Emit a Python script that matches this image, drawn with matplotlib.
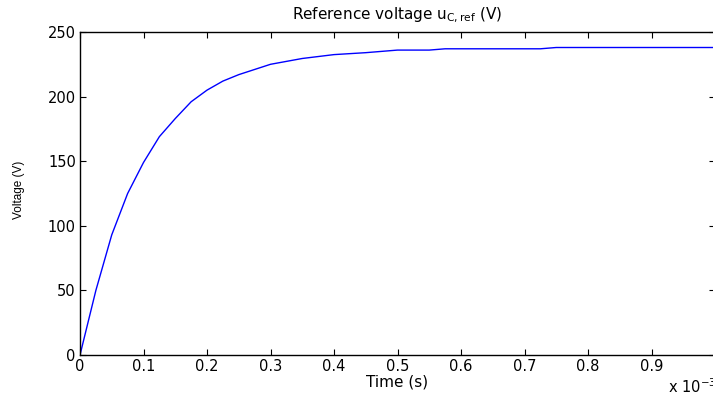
import matplotlib
matplotlib.use("Agg")
import matplotlib.pyplot as plt
import numpy as np

time_ms = [0, 0.025, 0.05, 0.075, 0.1, 0.125, 0.15, 0.175, 0.2, 0.225, 0.25, 0.275,
           0.3, 0.35, 0.4, 0.45, 0.5, 0.55, 0.575, 0.6, 0.7, 0.725, 0.75, 1.0]
voltage = [0, 50, 93, 125, 149, 169, 183, 196, 205, 212, 217, 221,
           225, 229.5, 232.5, 234, 236, 236, 237, 237, 237, 237, 238, 238]
xticks = [0, 0.1, 0.2, 0.3, 0.4, 0.5, 0.6, 0.7, 0.8, 0.9]
yticks = [0, 50, 100, 150, 200, 250]

W, H = 713, 398
plt.rcParams['font.family'] = ['DejaVu Sans']
fig = plt.figure(figsize=(W / 100, H / 100), dpi=100)
ax = fig.add_axes([80 / W, 43 / H, 635 / W, 323 / H])
ax.plot(time_ms, voltage, color='#0000ff', lw=1.0)
ax.set_xlim(0, 1.0)
ax.set_ylim(0, 250)
ax.set_xticks(xticks)
ax.set_xticklabels([f"{v:g}" for v in xticks])
ax.set_yticks(yticks)
ax.tick_params(direction='in', top=True, right=True, labelsize=10.5, length=4, width=0.8, pad=3)
for s in ax.spines.values():
    s.set_linewidth(1.0)
ax.set_title(r"Reference voltage u$_{\mathregular{C,ref}}$ (V)", fontsize=11, pad=9)
ax.set_xlabel("Time (s)", fontsize=11, va='center')
ax.xaxis.set_label_coords(0.5, (355 - 382) / 323)
ax.set_ylabel("Voltage (V)", fontsize=8.5, va='center', family='Liberation Sans')
ax.yaxis.set_label_coords((19 - 80) / 635, (355 - 190) / 323)
fig.text(668 / W, 1 - 387 / H, r"x 10$^{\mathregular{-3}}$", fontsize=10.5, va='center')
fig.savefig("out.png", dpi=100)
